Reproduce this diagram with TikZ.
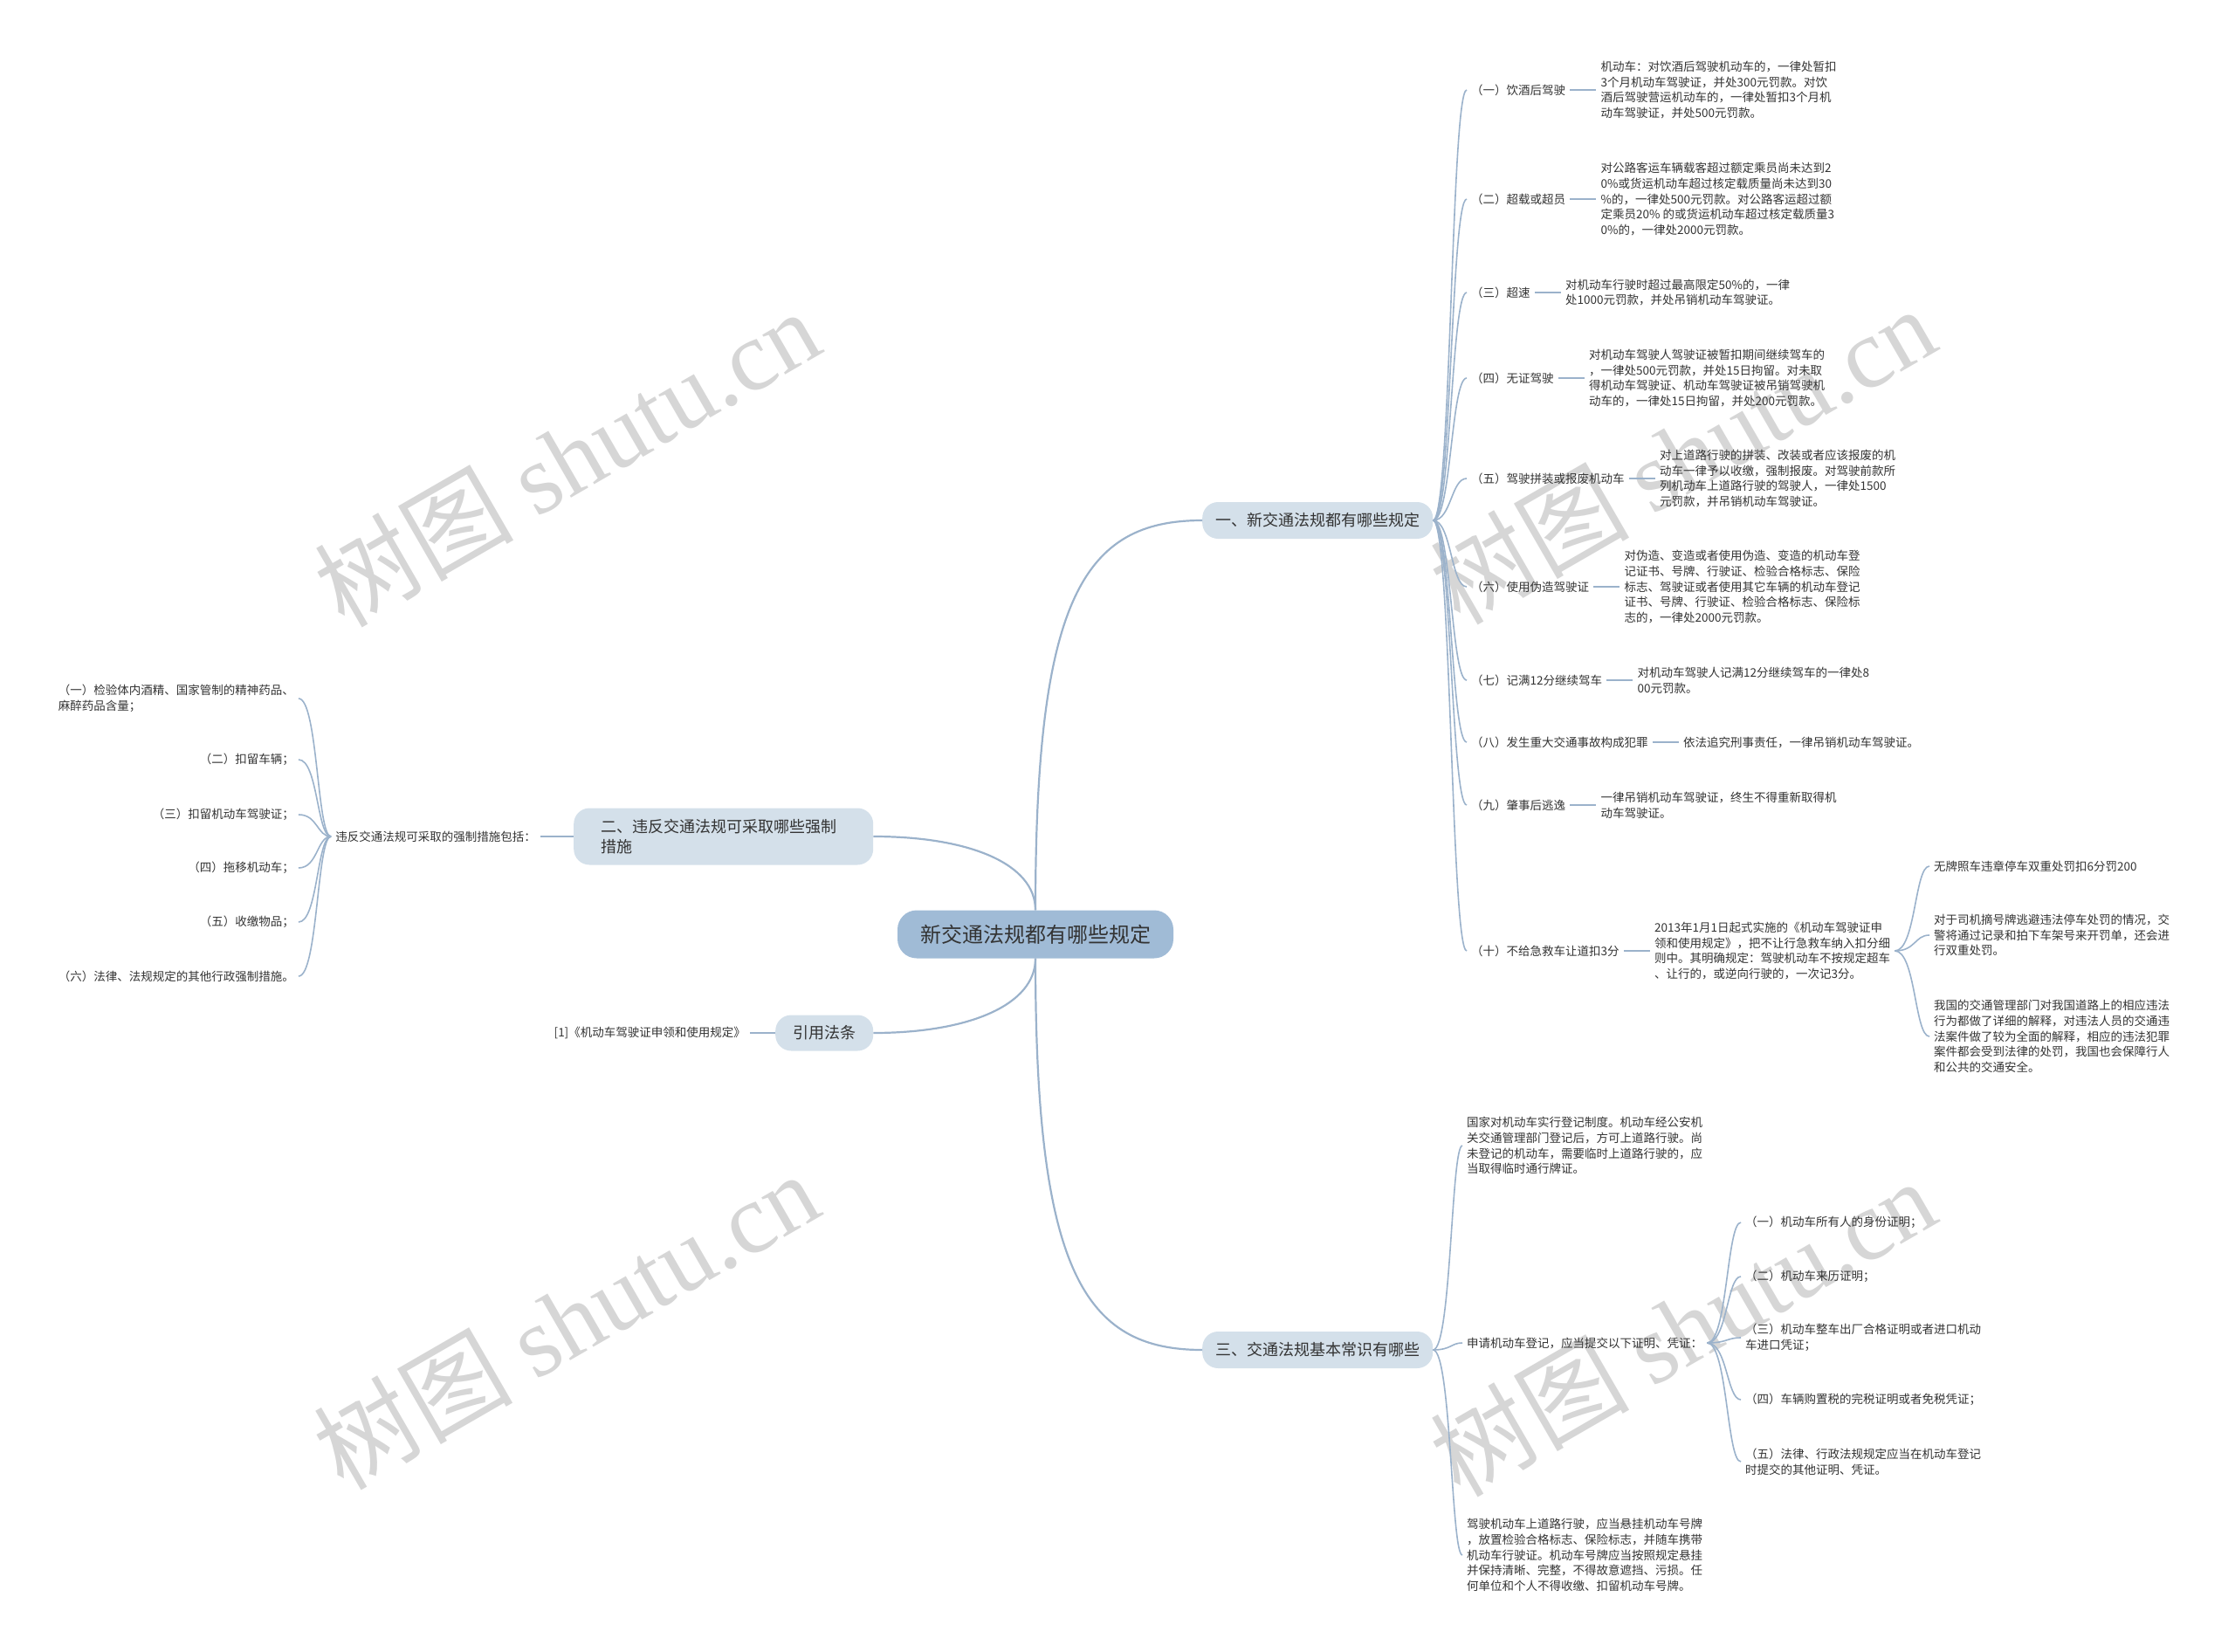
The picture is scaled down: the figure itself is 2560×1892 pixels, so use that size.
\documentclass[tikz,border=0pt]{standalone}
\usepackage{fontspec}
\setmainfont{Noto Sans CJK SC}
\newfontfamily\wmfont{Liberation Serif}
\usetikzlibrary{positioning}
\definecolor{rootblue}{HTML}{A0BBD6}
\definecolor{topicblue}{HTML}{D4E0EA}
\definecolor{linkblue}{HTML}{9BB2CB}
\definecolor{ink}{HTML}{333333}
\definecolor{wmgray}{HTML}{D6D6D6}
\tikzset{
  rootnode/.style={rectangle, rounded corners=22pt, fill=rootblue, text=ink,
    font=\fontsize{24}{28}\selectfont,
    minimum width=316pt, minimum height=55pt, inner sep=0pt},
  topicnode/.style={rectangle, rounded corners=18pt, fill=topicblue, text=ink,
    font=\fontsize{18}{23}\selectfont, align=left,
    inner xsep=15pt, minimum height=42pt},
  leaf/.style={font=\fontsize{13.5}{17.8}\selectfont, text=ink, align=left,
    inner xsep=5pt, inner ysep=2pt},
  mainlink/.style={draw=linkblue, line width=2.2pt},
  sublink/.style={draw=linkblue, line width=1.6pt},
  wmtext/.style={text=wmgray, font=\fontsize{114}{114}\selectfont, rotate=30},
}
\begin{document}
\begin{tikzpicture}[x=1pt, y=-1pt]
  \useasboundingbox (0,0) rectangle (2560,1892);
  % watermarks
  \foreach \wx/\wy [count=\wi] in {649/524, 1927/521, 648/1512, 1927/1520}
    \node[wmtext] (wm\wi) at (\wx,\wy) {树图 {\wmfont shutu.cn}};

  % root and main topics
  \node[rootnode] (root) at (1186,1070) {新交通法规都有哪些规定};
  \node[topicnode, anchor=west] (t1) at (1377,596) {一、新交通法规都有哪些规定};
  \node[topicnode, anchor=west, text width=281pt, inner xsep=31pt, minimum height=65pt] (t2) at (657,958)
    {二、违反交通法规可采取哪些强制\\措施};
  \node[topicnode, anchor=west, inner xsep=20pt, minimum height=41pt] (t4) at (888,1183) {引用法条};
  \node[topicnode, anchor=west] (t3) at (1377,1546) {三、交通法规基本常识有哪些};

  \draw[mainlink] (root.north) .. controls +(0,-357) and +(-136,0) .. (t1.west);
  \draw[mainlink] (root.north) .. controls +(0,-53) and +(110,0) .. (t2.east);
  \draw[mainlink] (root.south) .. controls +(0,53) and +(110,0) .. (t4.east);
  \draw[mainlink] (root.south) .. controls +(0,357) and +(-136,0) .. (t3.west);

  % branch one
  \node[leaf, anchor=west] (a1) at (1680,103) {（一）饮酒后驾驶};
  \node[leaf, anchor=west] (a2) at (1680,228) {（二）超载或超员};
  \node[leaf, anchor=west] (a3) at (1680,335) {（三）超速};
  \node[leaf, anchor=west] (a4) at (1680,433) {（四）无证驾驶};
  \node[leaf, anchor=west] (a5) at (1680,548) {（五）驾驶拼装或报废机动车};
  \node[leaf, anchor=west] (a6) at (1680,672) {（六）使用伪造驾驶证};
  \node[leaf, anchor=west] (a7) at (1680,779) {（七）记满12分继续驾车};
  \node[leaf, anchor=west] (a8) at (1680,850) {（八）发生重大交通事故构成犯罪};
  \node[leaf, anchor=west] (a9) at (1680,922) {（九）肇事后逃逸};
  \node[leaf, anchor=west] (a10) at (1680,1089) {（十）不给急救车让道扣3分};

  \node[leaf, right=30pt of a1] (d1) {机动车：对饮酒后驾驶机动车的，一律处暂扣\\3个月机动车驾驶证，并处300元罚款。对饮\\酒后驾驶营运机动车的，一律处暂扣3个月机\\动车驾驶证，并处500元罚款。};
  \node[leaf, right=30pt of a2] (d2) {对公路客运车辆载客超过额定乘员尚未达到2\\0\%或货运机动车超过核定载质量尚未达到30\\\%的，一律处500元罚款。对公路客运超过额\\定乘员20\% 的或货运机动车超过核定载质量3\\0\%的，一律处2000元罚款。};
  \node[leaf, right=30pt of a3] (d3) {对机动车行驶时超过最高限定50\%的，一律\\处1000元罚款，并处吊销机动车驾驶证。};
  \node[leaf, right=30pt of a4] (d4) {对机动车驾驶人驾驶证被暂扣期间继续驾车的\\，一律处500元罚款，并处15日拘留。对未取\\得机动车驾驶证、机动车驾驶证被吊销驾驶机\\动车的，一律处15日拘留，并处200元罚款。};
  \node[leaf, right=30pt of a5] (d5) {对上道路行驶的拼装、改装或者应该报废的机\\动车一律予以收缴，强制报废。对驾驶前款所\\列机动车上道路行驶的驾驶人，一律处1500\\元罚款，并吊销机动车驾驶证。};
  \node[leaf, right=30pt of a6] (d6) {对伪造、变造或者使用伪造、变造的机动车登\\记证书、号牌、行驶证、检验合格标志、保险\\标志、驾驶证或者使用其它车辆的机动车登记\\证书、号牌、行驶证、检验合格标志、保险标\\志的，一律处2000元罚款。};
  \node[leaf, right=30pt of a7] (d7) {对机动车驾驶人记满12分继续驾车的一律处8\\00元罚款。};
  \node[leaf, right=30pt of a8] (d8) {依法追究刑事责任，一律吊销机动车驾驶证。};
  \node[leaf, right=30pt of a9] (d9) {一律吊销机动车驾驶证，终生不得重新取得机\\动车驾驶证。};
  \node[leaf, right=30pt of a10] (d10) {2013年1月1日起式实施的《机动车驾驶证申\\领和使用规定》，把不让行急救车纳入扣分细\\则中。其明确规定：驾驶机动车不按规定超车\\、让行的，或逆向行驶的，一次记3分。};

  \foreach \i in {1,...,10} {
    \draw[sublink] (t1.east) .. controls +(21,0) and +(-18,0) .. (a\i.west);
    \draw[sublink] (a\i.east) -- (d\i.west);
  }

  \node[leaf, anchor=west] (e1) at (2210,992) {无牌照车违章停车双重处罚扣6分罚200};
  \node[leaf, anchor=west] (e2) at (2210,1071) {对于司机摘号牌逃避违法停车处罚的情况，交\\警将通过记录和拍下车架号来开罚单，还会进\\行双重处罚。};
  \node[leaf, anchor=west] (e3) at (2210,1187) {我国的交通管理部门对我国道路上的相应违法\\行为都做了详细的解释，对违法人员的交通违\\法案件做了较为全面的解释，相应的违法犯罪\\案件都会受到法律的处罚，我国也会保障行人\\和公共的交通安全。};
  \foreach \i in {1,2,3}
    \draw[sublink] (d10.east) .. controls +(24,0) and +(-17,0) .. (e\i.west);

  % branch two
  \node[leaf, left=38pt of t2] (b0) {违反交通法规可采取的强制措施包括：};
  \draw[sublink] (t2.west) -- (b0.east);
  \node[leaf, anchor=east] (b1) at (342,800) {（一）检验体内酒精、国家管制的精神药品、\\麻醉药品含量；};
  \node[leaf, anchor=east] (b2) at (342,870) {（二）扣留车辆；};
  \node[leaf, anchor=east] (b3) at (342,933) {（三）扣留机动车驾驶证；};
  \node[leaf, anchor=east] (b4) at (342,994) {（四）拖移机动车；};
  \node[leaf, anchor=east] (b5) at (342,1056) {（五）收缴物品；};
  \node[leaf, anchor=east] (b6) at (342,1118) {（六）法律、法规规定的其他行政强制措施。};
  \foreach \i in {1,...,6}
    \draw[sublink] (b0.west) .. controls +(-16,0) and +(22,0) .. (b\i.east);

  % cited law
  \node[leaf, left=29pt of t4] (r1) {[1]《机动车驾驶证申领和使用规定》};
  \draw[sublink] (t4.west) -- (r1.east);

  % branch three
  \node[leaf, anchor=west] (c1) at (1675,1312) {国家对机动车实行登记制度。机动车经公安机\\关交通管理部门登记后，方可上道路行驶。尚\\未登记的机动车，需要临时上道路行驶的，应\\当取得临时通行牌证。};
  \node[leaf, anchor=west] (c2) at (1675,1538) {申请机动车登记，应当提交以下证明、凭证：};
  \node[leaf, anchor=west] (c3) at (1675,1781) {驾驶机动车上道路行驶，应当悬挂机动车号牌\\，放置检验合格标志、保险标志，并随车携带\\机动车行驶证。机动车号牌应当按照规定悬挂\\并保持清晰、完整，不得故意遮挡、污损。任\\何单位和个人不得收缴、扣留机动车号牌。};
  \foreach \i in {1,2,3}
    \draw[sublink] (t3.east) .. controls +(21,0) and +(-13,0) .. (c\i.west);

  \node[leaf, anchor=west] (f1) at (1994,1400) {（一）机动车所有人的身份证明；};
  \node[leaf, anchor=west] (f2) at (1994,1462) {（二）机动车来历证明；};
  \node[leaf, anchor=west] (f3) at (1994,1532) {（三）机动车整车出厂合格证明或者进口机动\\车进口凭证；};
  \node[leaf, anchor=west] (f4) at (1994,1603) {（四）车辆购置税的完税证明或者免税凭证；};
  \node[leaf, anchor=west] (f5) at (1994,1674) {（五）法律、行政法规规定应当在机动车登记\\时提交的其他证明、凭证。};
  \foreach \i in {1,...,5}
    \draw[sublink] (c2.east) .. controls +(23,0) and +(-16,0) .. (f\i.west);
\end{tikzpicture}
\end{document}
